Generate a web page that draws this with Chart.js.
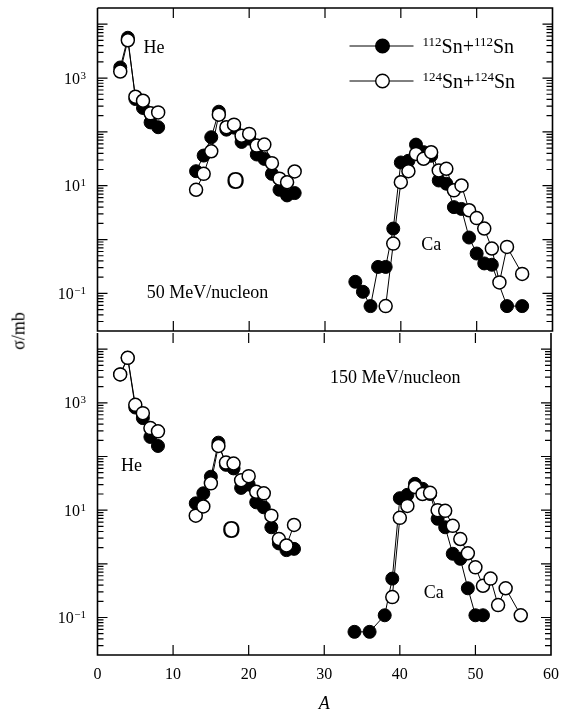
<!DOCTYPE html>
<html>
<head>
<meta charset="utf-8">
<script src="https://cdn.jsdelivr.net/npm/chart.js@4.4.0/dist/chart.umd.min.js"></script>
<style>
  body { margin: 0; background: #fff; width: 569px; height: 717px; position: relative; overflow: hidden; }
  .panel { position: absolute; left: 0; }
  #ylab { position: absolute; left: 19px; top: 331px; transform: translate(-50%, -50%) rotate(-90deg);
          font: 18px 'Liberation Serif', 'DejaVu Serif', serif; white-space: nowrap; color: #000; }
</style>
</head>
<body>
<canvas id="topPanel" class="panel" style="top:0" width="569" height="340"></canvas>
<canvas id="botPanel" class="panel" style="top:325px" width="569" height="392"></canvas>
<div id="ylab">σ/mb</div>
<script>
// mass numbers of each group
const heMass = [3, 4, 5, 6, 7, 8];
const oMass = [13, 14, 15, 16, 17, 18, 19, 20, 21, 22, 23, 24, 25, 26];
const caMass50_112 = [34, 35, 36, 37, 38, 39, 40, 41, 42, 43, 44, 45, 46, 47, 48, 49, 50, 51, 52, 54, 56];
const caMass50_124 = [38, 39, 40, 41, 42, 43, 44, 45, 46, 47, 48, 49, 50, 51, 52, 53, 54, 56];
const caMass150_112 = [34, 36, 38, 39, 40, 41, 42, 43, 44, 45, 46, 47, 48, 49, 50, 51];
const caMass150_124 = [39, 40, 41, 42, 43, 44, 45, 46, 47, 48, 49, 50, 51, 52, 53, 54, 56];

// cross sections (mb), 50 MeV/nucleon
const he50_112 = [1570, 5600, 408, 278, 150, 122];
const he50_124 = [1320, 5030, 450, 379, 221, 230];
const o50_112 = [18.6, 36.3, 79.5, 237, 110, 120, 65, 75, 38, 31.5, 16.6, 8.4, 6.6, 7.3];
const o50_124 = [8.4, 16.6, 43.6, 209, 122, 136, 85, 91.6, 55.6, 58, 26.2, 13.5, 11.6, 18.4];
const ca50_112 = [0.164, 0.107, 0.058, 0.31, 0.31, 1.6, 27, 29, 58, 42, 36, 12.5, 10.9, 4.0, 3.7, 1.09, 0.55, 0.36, 0.34, 0.058, 0.058];
const ca50_124 = [0.058, 0.84, 11.6, 18.6, 39, 31.6, 41.9, 19.2, 20.6, 8.2, 10.1, 3.5, 2.5, 1.6, 0.68, 0.16, 0.73, 0.23];

// cross sections (mb), 150 MeV/nucleon
const he150_112 = [3380, 6890, 818, 519, 231, 157];
const he150_124 = [3380, 6890, 916, 641, 338, 294];
const o150_112 = [13.4, 20.6, 42, 181, 70, 60, 26, 30, 14, 11.3, 4.8, 2.4, 1.8, 1.9];
const o150_124 = [7.9, 11.7, 31.6, 157, 77, 74, 36, 43, 22, 20.6, 7.9, 2.9, 2.2, 5.3];
const ca150_112 = [0.054, 0.054, 0.11, 0.53, 16.7, 19.3, 31, 25, 20, 6.9, 4.8, 1.54, 1.24, 0.35, 0.11, 0.11];
const ca150_124 = [0.24, 7.2, 12, 27, 20, 21, 10, 9.7, 5.1, 2.9, 1.57, 0.86, 0.39, 0.53, 0.17, 0.35, 0.11];

const yTickVals = [0.1, 10, 1000];
const yTickExp = ['−1', '1', '3'];
const xTickVals = [0, 10, 20, 30, 40, 50, 60];

const serif = "'Liberation Serif', 'DejaVu Serif', serif";

function pts(masses, vals) {
    return masses.map((a, i) => ({x: a, y: vals[i]}))
}

function series(masses, vals, filled) {
    return {
        data: pts(masses, vals),
        showLine: true,
        borderColor: '#000',
        borderWidth: 1,
        pointRadius: 6.5,
        pointBorderWidth: filled ? 1 : 1.5,
        pointBackgroundColor: filled ? '#000' : '#fff',
        pointBorderColor: '#000',
        order: filled ? 2 : 1
    }
}

// frame, inward ticks, y labels, notes and legend
const framePlugin = {
    id: 'frame',
    afterDraw(chart, args, opts) {
        const ctx = chart.ctx
        const a = chart.chartArea
        const x = chart.scales.x, y = chart.scales.y
        ctx.save()
        ctx.strokeStyle = '#000'
        ctx.lineWidth = 1.2
        ctx.beginPath()
        for (const v of xTickVals) {
            if (v <= x.min || v >= x.max) continue
            const px = x.getPixelForValue(v)
            ctx.moveTo(px, a.bottom); ctx.lineTo(px, a.bottom - 10)
            ctx.moveTo(px, a.top); ctx.lineTo(px, a.top + 10)
        }
        for (let e = -2; e <= 4; e++) {
            for (let m = 1; m <= 9; m++) {
                const v = m * Math.pow(10, e)
                if (v <= y.min || v >= y.max) continue
                const py = y.getPixelForValue(v)
                const len = m === 1 ? 10 : 6
                ctx.moveTo(a.left, py); ctx.lineTo(a.left + len, py)
                ctx.moveTo(a.right, py); ctx.lineTo(a.right - len, py)
            }
        }
        ctx.stroke()
        // border: the lower panel shares its top edge with the upper one
        ctx.lineWidth = 1.6
        ctx.beginPath()
        ctx.moveTo(a.left, a.top); ctx.lineTo(a.left, a.bottom)
        ctx.lineTo(a.right, a.bottom); ctx.lineTo(a.right, a.top)
        if (opts.topEdge) ctx.lineTo(a.left, a.top)
        ctx.stroke()

        ctx.fillStyle = '#000'
        // y tick labels 10^n
        ctx.textAlign = 'left'
        ctx.textBaseline = 'alphabetic'
        yTickVals.forEach((v, i) => {
            const py = y.getPixelForValue(v)
            ctx.font = '16px ' + serif
            const w1 = ctx.measureText('10').width
            ctx.font = '11px ' + serif
            const w2 = ctx.measureText(yTickExp[i]).width
            const x0 = a.left - 12 - w1 - w2
            ctx.font = '16px ' + serif
            ctx.fillText('10', x0, py + 5.5)
            ctx.font = '11px ' + serif
            ctx.fillText(yTickExp[i], x0 + w1 + 0.5, py + 0.5)
        })

        ctx.textAlign = 'center'
        ctx.textBaseline = 'middle'
        for (const n of opts.notes) {
            ctx.font = n.font
            ctx.fillText(n.text, x.getPixelForValue(n.a), y.getPixelForValue(n.s))
        }

        if (opts.legend) {
            const rows = [{fill: '#000', sup: '112'}, {fill: '#fff', sup: '124'}]
            rows.forEach((r, i) => {
                const cy = a.top + 38 + i * 35
                ctx.lineWidth = 1
                ctx.beginPath()
                ctx.moveTo(a.left + 252, cy); ctx.lineTo(a.left + 316, cy)
                ctx.stroke()
                ctx.beginPath()
                ctx.arc(a.left + 285, cy, 6.8, 0, Math.PI * 2)
                ctx.fillStyle = r.fill
                ctx.fill()
                ctx.lineWidth = 1.4
                ctx.stroke()
                ctx.fillStyle = '#000'
                ctx.textAlign = 'left'
                ctx.textBaseline = 'alphabetic'
                let tx = a.left + 325
                const base = cy + 6.7
                const parts = [[r.sup, 13, -6.4], ['Sn+', 20, 0], [r.sup, 13, -6.4], ['Sn', 20, 0]]
                for (const p of parts) {
                    ctx.font = p[1] + 'px ' + serif
                    ctx.fillText(p[0], tx, base + p[2])
                    tx += ctx.measureText(p[0]).width
                }
            })
        }
        ctx.restore()
    }
}

function makePanel(id, datasets, showX, notes, legend, pad) {
    return new Chart(document.getElementById(id), {
        type: 'scatter',
        data: {datasets: datasets},
        options: {
            responsive: false,
            animation: false,
            layout: {padding: pad},
            plugins: {
                legend: {display: false},
                tooltip: {enabled: false},
                frame: {notes: notes, legend: legend, topEdge: !showX}
            },
            scales: {
                x: {
                    type: 'linear', min: 0, max: 60,
                    display: showX,
                    afterFit: s => { s.height = showX ? 62 : 0 },
                    afterBuildTicks: s => { s.ticks = xTickVals.map(v => ({value: v})) },
                    grid: {display: false, drawTicks: false},
                    border: {display: false},
                    ticks: {padding: 10, color: '#000', font: {family: serif, size: 16}},
                    title: {display: true, text: 'A', color: '#000', padding: {top: 0, bottom: 2},
                            font: {family: serif, size: 18, style: 'italic'}}
                },
                y: {
                    type: 'logarithmic', min: 0.02, max: 20000,
                    afterFit: s => { s.width = 97.5 },
                    grid: {display: false, drawTicks: false},
                    border: {display: false},
                    ticks: {display: false}
                }
            }
        },
        plugins: [framePlugin]
    })
}

makePanel('topPanel', [
    series(heMass, he50_112, true), series(heMass, he50_124, false),
    series(oMass, o50_112, true), series(oMass, o50_124, false),
    series(caMass50_112, ca50_112, true), series(caMass50_124, ca50_124, false)
], false, [
    {text: 'He', a: 7.45, s: 3630, font: '18px ' + serif},
    {text: 'O', a: 18.2, s: 11.5, font: '24px "Liberation Sans", Arial, sans-serif'},
    {text: 'Ca', a: 44.0, s: 0.78, font: '18px ' + serif},
    {text: '50 MeV/nucleon', a: 14.5, s: 0.10, font: '18px ' + serif}
], true, {top: 7, right: 16.5, bottom: 9, left: 0})

makePanel('botPanel', [
    series(heMass, he150_112, true), series(heMass, he150_124, false),
    series(oMass, o150_112, true), series(oMass, o150_124, false),
    series(caMass150_112, ca150_112, true), series(caMass150_124, ca150_124, false)
], true, [
    {text: 'He', a: 4.5, s: 66, font: '18px ' + serif},
    {text: 'O', a: 17.7, s: 4.1, font: '24px "Liberation Sans", Arial, sans-serif'},
    {text: 'Ca', a: 44.5, s: 0.28, font: '18px ' + serif},
    {text: '150 MeV/nucleon', a: 39.4, s: 2850, font: '18px ' + serif}
], false, {top: 6, right: 16.5, bottom: 0, left: 0})
</script>
</body>
</html>
